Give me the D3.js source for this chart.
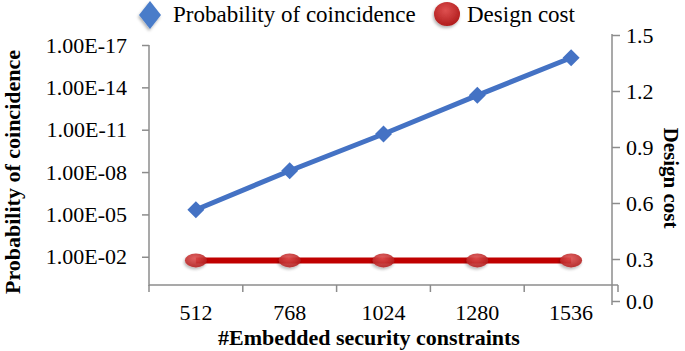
<!DOCTYPE html>
<html lang="en">
<meta charset="UTF-8">
<title>Probability of coincidence and design cost</title>
<script src="https://d3js.org/d3.v7.min.js"></script>
<style>
html, body { margin: 0; padding: 0; background: #fff; }
svg text { font-family: "Times New Roman", "Liberation Serif", Tinos, "DejaVu Serif", serif; fill: #000; }
</style>
<body>
<div id="chart"></div>
<script>
// data
var categories = ["512", "768", "1024", "1280", "1536"];
var probability = [4.7e-6, 8e-9, 2e-11, 3.7e-14, 8e-17];
var designCost = [0.29, 0.29, 0.29, 0.29, 0.29];
var leftTicks = [1e-2, 1e-5, 1e-8, 1e-11, 1e-14, 1e-17];
var leftTickLabels = ["1.00E-02", "1.00E-05", "1.00E-08", "1.00E-11", "1.00E-14", "1.00E-17"];
var rightTicks = [0, 0.3, 0.6, 0.9, 1.2, 1.5];
var rightTickLabels = ["0.0", "0.3", "0.6", "0.9", "1.2", "1.5"];

var W = 685, H = 351;
var axisColor = "#8c8c8c";
var serif = "'Times New Roman', 'Liberation Serif', Tinos, serif";

var svg = d3.select("#chart").append("svg")
    .attr("width", W)
    .attr("height", H)
    .attr("font-family", serif);

var defs = svg.append("defs");
var grad = defs.append("radialGradient").attr("id", "redball")
    .attr("cx", "45%").attr("cy", "35%").attr("r", "65%");
grad.append("stop").attr("offset", "0%").attr("stop-color", "#de5050");
grad.append("stop").attr("offset", "100%").attr("stop-color", "#b01c1c");
var shadow = defs.append("filter").attr("id", "shadow")
    .attr("x", "-50%").attr("y", "-50%").attr("width", "200%").attr("height", "200%");
shadow.append("feDropShadow").attr("dx", -1).attr("dy", 2).attr("stdDeviation", 1.5)
    .attr("flood-color", "#000").attr("flood-opacity", 0.3);

// scales
var x = d3.scaleBand().domain(categories).range([149, 618]);
var yLeft = d3.scaleLog().domain([1, 1e-17]).range([285, 45]);
var yRight = d3.scaleLinear().domain([0, 0.3, 1.5]).range([301, 259, 35]);

// x axis: labels at band centres, ticks on band edges
svg.append("line")
    .attr("x1", 149).attr("x2", 618).attr("y1", 285).attr("y2", 285)
    .attr("stroke", axisColor).attr("stroke-width", 1.5);
var edges = categories.map(function(c) { return x(c); }).concat([618]);
svg.selectAll(".xtick").data(edges).enter().append("line")
    .attr("x1", function(d) { return d; }).attr("x2", function(d) { return d; })
    .attr("y1", 285).attr("y2", 292)
    .attr("stroke", axisColor).attr("stroke-width", 1.5);
svg.selectAll(".xlab").data(categories).enter().append("text")
    .attr("x", function(d) { return x(d) + x.bandwidth() / 2; })
    .attr("y", 320)
    .attr("text-anchor", "middle")
    .style("font-size", "22px")
    .text(function(d) { return d; });

// left axis
var leftAxis = svg.append("g")
    .attr("transform", "translate(149,0)")
    .call(d3.axisLeft(yLeft).tickValues(leftTicks).tickSize(7).tickSizeOuter(0)
        .tickFormat(function(d, i) { return leftTickLabels[i]; }));
leftAxis.attr("font-family", serif);
leftAxis.select(".domain").remove();
leftAxis.selectAll("line").attr("stroke", axisColor).attr("stroke-width", 1.5);
leftAxis.selectAll("text").style("font-size", "22px").attr("x", -22);
svg.append("line")
    .attr("x1", 149).attr("x2", 149).attr("y1", 45).attr("y2", 286)
    .attr("stroke", axisColor).attr("stroke-width", 1.5);

// right axis
var rightAxis = svg.append("g")
    .attr("transform", "translate(612,0)")
    .call(d3.axisRight(yRight).tickValues(rightTicks).tickSize(8).tickSizeOuter(0)
        .tickFormat(function(d, i) { return rightTickLabels[i]; }));
rightAxis.attr("font-family", serif);
rightAxis.select(".domain").remove();
rightAxis.selectAll("line").attr("stroke", axisColor).attr("stroke-width", 1.5);
rightAxis.selectAll("text").style("font-size", "22px").attr("x", 14);
svg.append("line")
    .attr("x1", 612).attr("x2", 612).attr("y1", 34).attr("y2", 305)
    .attr("stroke", axisColor).attr("stroke-width", 1.5);

// axis titles
svg.append("text")
    .attr("transform", "translate(20,172) rotate(-90)")
    .attr("text-anchor", "middle")
    .style("font-size", "22px").style("font-weight", "bold")
    .text("Probability of coincidence");
svg.append("text")
    .attr("transform", "translate(664,178) rotate(90)")
    .attr("text-anchor", "middle")
    .style("font-size", "21px").style("font-weight", "bold")
    .text("Design cost");
svg.append("text")
    .attr("x", 369).attr("y", 345)
    .attr("text-anchor", "middle")
    .style("font-size", "22px").style("font-weight", "bold")
    .text("#Embedded security constraints");

var cx = function(d, i) { return x(categories[i]) + x.bandwidth() / 2; };

// design cost series
svg.append("path")
    .datum(designCost)
    .attr("fill", "none")
    .attr("stroke", "#c00000")
    .attr("stroke-width", 6)
    .attr("d", d3.line().x(cx).y(function(d) { return yRight(d); }));
svg.selectAll(".cost").data(designCost).enter().append("ellipse")
    .attr("cx", cx)
    .attr("cy", function(d) { return yRight(d); })
    .attr("rx", 11).attr("ry", 7)
    .attr("fill", "url(#redball)")
    .attr("opacity", 0.9)
    .attr("filter", "url(#shadow)");

// probability series
svg.append("path")
    .datum(probability)
    .attr("fill", "none")
    .attr("stroke", "#4472c4")
    .attr("stroke-width", 5)
    .attr("d", d3.line().x(cx).y(function(d) { return yLeft(d); }));
svg.selectAll(".prob").data(probability).enter().append("path")
    .attr("transform", function(d, i) { return "translate(" + cx(d, i) + "," + yLeft(d) + ")"; })
    .attr("d", "M0,-8.5L8.5,0L0,8.5L-8.5,0Z")
    .attr("fill", "#4472c4");

// legend
var legend = svg.append("g");
legend.append("path")
    .attr("d", "M150,1L161,15L150,29L139,15Z")
    .attr("fill", "#4a7cc9")
    .attr("filter", "url(#shadow)");
legend.append("text")
    .attr("x", 173).attr("y", 22)
    .style("font-size", "23px")
    .text("Probability of coincidence");
legend.append("ellipse")
    .attr("cx", 447).attr("cy", 14).attr("rx", 13).attr("ry", 12)
    .attr("fill", "url(#redball)")
    .attr("filter", "url(#shadow)");
legend.append("text")
    .attr("x", 467).attr("y", 22)
    .style("font-size", "23px")
    .text("Design cost");
</script>
</body>
</html>
